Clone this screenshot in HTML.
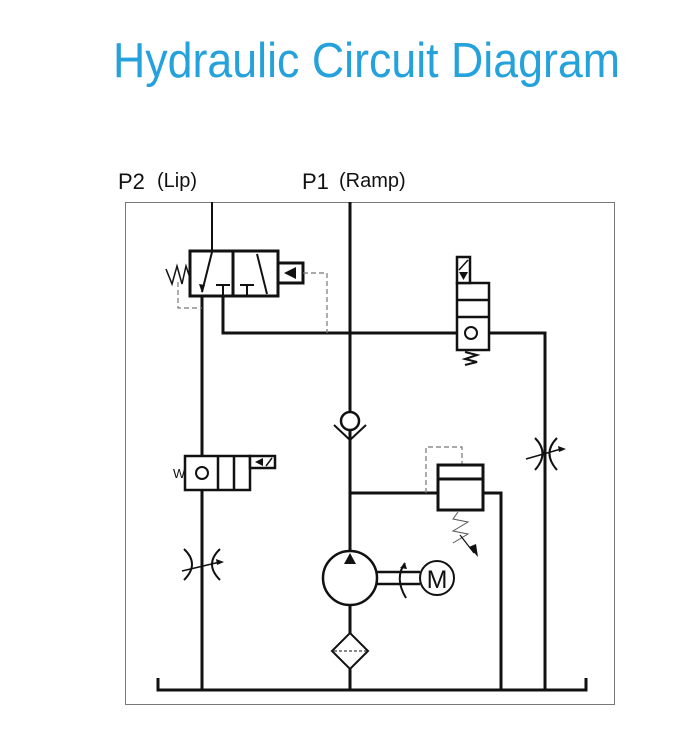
<!DOCTYPE html>
<html><head><meta charset="utf-8"><style>
html,body{margin:0;padding:0;background:#fff;width:700px;height:755px;overflow:hidden}
svg{display:block}
text{font-family:"Liberation Sans",sans-serif}
</style></head><body>
<svg width="700" height="755" viewBox="0 0 700 755" xmlns="http://www.w3.org/2000/svg">
<text x="113" y="77" font-size="49" fill="#25a2dc" textLength="507" lengthAdjust="spacingAndGlyphs">Hydraulic Circuit Diagram</text>
<text x="118" y="189" font-size="22" fill="#111">P2</text>
<text x="157" y="187" font-size="20" fill="#111">(Lip)</text>
<text x="302" y="189" font-size="22" fill="#111">P1</text>
<text x="339" y="187" font-size="20" fill="#111">(Ramp)</text>
<rect x="125.5" y="202.5" width="489" height="502" fill="none" stroke="#777" stroke-width="1"/>
<g fill="none" stroke="#111" stroke-width="3">
<line x1="212" y1="202" x2="212" y2="252" stroke-width="2"/>
<line x1="202" y1="296" x2="202" y2="690"/>
<polyline points="223,283 223,333 545,333 545,690"/>
<line x1="350" y1="202" x2="350" y2="690"/>
<line x1="350" y1="493" x2="437" y2="493"/>
<polyline points="483,493 501,493 501,690"/>
<polyline points="158,678 158,690 586,690 586,678"/>
</g>
<g stroke="#111" fill="#fff">
<rect x="190" y="251" width="88" height="45" stroke-width="3"/>
<line x1="233" y1="251" x2="233" y2="296" stroke-width="3"/>
<rect x="278" y="263" width="25" height="20" stroke-width="3"/>
<polygon points="284,273 296,267 296,279" fill="#111" stroke="none"/>
<polyline points="212,252 202,292" fill="none" stroke-width="2"/>
<polygon points="202,293 199,284 205,285" fill="#111" stroke="none"/>
<line x1="257" y1="254" x2="267" y2="294" fill="none" stroke-width="2"/>
<line x1="216" y1="285" x2="230" y2="285" stroke-width="2"/>
<line x1="223" y1="285" x2="223" y2="296" stroke-width="2"/>
<line x1="240" y1="285" x2="254" y2="285" stroke-width="2"/>
<line x1="247" y1="285" x2="247" y2="296" stroke-width="2"/>
<polyline points="166,269 172,284 177,266 182,284 186,266 190,278" fill="none" stroke-width="1.5"/>
</g>
<g fill="none" stroke="#777" stroke-width="1.2" stroke-dasharray="5,3">
<polyline points="303,273 327,273 327,333"/>
<polyline points="178,282 178,308 202,308"/>
<polyline points="426,493 426,447 462,447 462,464"/>
</g>
<g stroke="#111" fill="#fff" stroke-width="2.5">
<rect x="457" y="283" width="32" height="67"/>
<line x1="457" y1="300" x2="489" y2="300"/>
<line x1="457" y1="317" x2="489" y2="317"/>
<rect x="457" y="257" width="13" height="26"/>
<circle cx="471" cy="333" r="6" fill="#fff" stroke-width="2"/>
</g>
<line x1="459" y1="270" x2="468" y2="260" stroke="#111" stroke-width="1.5"/>
<polygon points="459,272 468,272 463.5,280" fill="#111"/>
<polyline points="465,352 477,355 465,359 477,362 465,365" fill="none" stroke="#111" stroke-width="2"/>
<circle cx="350" cy="421" r="9" fill="#fff" stroke="#111" stroke-width="2.5"/>
<polyline points="334,425 350,440 366,425" fill="none" stroke="#111" stroke-width="2"/>
<g fill="none" stroke="#111" stroke-width="2">
<path d="M535,438 Q550,453 535,470"/><path d="M557,438 Q542,453 557,470"/>
<line x1="526" y1="459" x2="561" y2="449" stroke-width="1.5"/>
<path d="M184,549 Q200,564 184,580"/><path d="M220,549 Q204,564 220,580"/>
<line x1="182" y1="571" x2="220" y2="562" stroke-width="1.5"/>
</g>
<polygon points="566,449 558,446 559,452" fill="#111"/>
<polygon points="224,562 216,559 217,565" fill="#111"/>
<g stroke="#111" fill="#fff" stroke-width="2.5">
<rect x="185" y="456" width="65" height="34"/>
<line x1="218" y1="456" x2="218" y2="490"/>
<line x1="234" y1="456" x2="234" y2="490"/>
<rect x="250" y="456" width="25" height="12"/>
<circle cx="202" cy="473" r="6" stroke-width="2"/>
</g>
<line x1="266" y1="466" x2="272" y2="458" stroke="#111" stroke-width="1.5"/>
<polygon points="255,462 263,458 263,466" fill="#111"/>
<text x="173" y="478" font-size="13" fill="#111">W</text>
<g stroke="#111" fill="#fff" stroke-width="3">
<rect x="438" y="465" width="45" height="45"/>
<line x1="438" y1="479" x2="483" y2="479"/>
</g>
<polyline points="458,512 453,519 468,522 453,531 468,534 453,543" fill="none" stroke="#555" stroke-width="1"/>
<line x1="460" y1="535" x2="474" y2="553" stroke="#111" stroke-width="1.2"/>
<polygon points="478,557 469,547 476,544" fill="#111"/>
<circle cx="350" cy="578" r="27" fill="#fff" stroke="#111" stroke-width="2.5"/>
<polygon points="350,553 344,564 356,564" fill="#111"/>
<line x1="377" y1="572" x2="420" y2="572" stroke="#111" stroke-width="2.5"/>
<line x1="377" y1="584" x2="420" y2="584" stroke="#111" stroke-width="2.5"/>
<path d="M405,563 Q394,578 406,598" fill="none" stroke="#111" stroke-width="2"/>
<polygon points="405,563 400,568 407,569" fill="#111"/>
<circle cx="437" cy="578" r="17" fill="#fff" stroke="#111" stroke-width="2"/>
<text x="437" y="588" font-size="25" fill="#111" text-anchor="middle">M</text>
<polygon points="350,633 368,651 350,669 332,651" fill="#fff" stroke="#111" stroke-width="2"/>
<line x1="334" y1="651" x2="366" y2="651" stroke="#111" stroke-width="1" stroke-dasharray="3,2"/>
</svg>
</body></html>
